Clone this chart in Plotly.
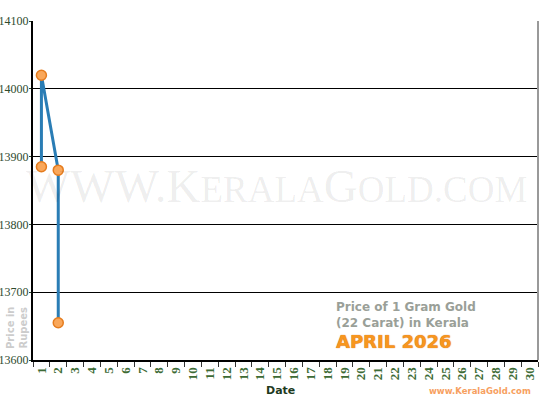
import plotly.graph_objects as go

dates = [str(d) for d in range(1, 31)]
point_dates = ["1", "1", "2", "2"]
prices = [13885, 14020, 13880, 13655]
y_ticks = [13600, 13700, 13800, 13900, 14000, 14100]
y_labels = [str(v) for v in y_ticks]

fig = go.Figure()
fig.add_trace(go.Scatter(
    x=point_dates, y=prices, mode="lines+markers",
    line=dict(color="#2a7db5", width=3),
    marker=dict(size=10, color="#f9a75a", line=dict(color="#e57c1e", width=1.5)),
    showlegend=False, hoverinfo="skip",
))

fig.update_layout(
    width=550, height=400,
    margin=dict(l=33, r=12, t=21, b=40),
    paper_bgcolor="white", plot_bgcolor="white",
    xaxis=dict(
        type="category", categoryorder="array", categoryarray=dates,
        tickvals=dates, ticktext=dates, automargin=False,
        range=[-0.5, 29.5], tickson="boundaries",
        ticks="outside", ticklen=5, tickcolor="#333", tickwidth=1,
        tickangle=-90, showgrid=False, zeroline=False,
        showline=True, linecolor="black", linewidth=2,
        tickfont=dict(family="Liberation Serif", size=13, color="#3d6b35",
                      weight="bold"),
    ),
    yaxis=dict(
        range=[13600, 14100], tickvals=y_ticks, ticktext=y_labels, automargin=False,
        ticks="outside", ticklen=2, tickcolor="#2e4a2e", ticklabelstandoff=-2,
        showgrid=True, gridcolor="black", gridwidth=1.2, zeroline=False,
        showline=True, linecolor="black", linewidth=2,
        tickfont=dict(family="Liberation Serif", size=12, color="#2e4a2e"),
    ),
)

fig.add_shape(type="line", xref="paper", yref="paper", x0=1, x1=1, y0=0, y1=1,
              line=dict(color="#999999", width=2))

# watermark (semi-transparent so the data line shows through)
sc = "font-size:37px"
wm = ("WWW.K<span style='%s'>ERALA</span>G<span style='%s'>OLD.COM</span>" % (sc, sc))
fig.add_annotation(text=wm, xref="paper", yref="paper", x=0.483, y=0.513, yanchor="middle",
                   xanchor="center", showarrow=False,
                   font=dict(family="Liberation Serif", size=47, color="rgba(0,0,0,0.075)"))

fig.add_annotation(text="<b>Price in<br>Rupees</b>", xref="paper", yref="paper",
                   x=-0.032, y=0.094, xanchor="center", yanchor="middle",
                   textangle=-90, showarrow=False,
                   font=dict(family="DejaVu Sans", size=10, color="#cccccc"), align="center")

fig.add_annotation(text="<b>Price of 1 Gram Gold</b>", xref="paper", yref="paper",
                   x=0.596, y=0.156, xanchor="left", yanchor="middle", showarrow=False,
                   font=dict(family="DejaVu Sans", size=12, color="#9a9f98"))
fig.add_annotation(text="<b>(22 Carat) in Kerala</b>", xref="paper", yref="paper",
                   x=0.596, y=0.109, xanchor="left", yanchor="middle", showarrow=False,
                   font=dict(family="DejaVu Sans", size=12, color="#9a9f98"))
fig.add_annotation(text="<b>APRIL 2026</b>", xref="paper", yref="paper",
                   x=0.596, y=0.055, xanchor="left", yanchor="middle", showarrow=False,
                   font=dict(family="DejaVu Sans", size=18, color="#f7961f",
                             shadow="0px 0px 1px #c85a00"))

fig.add_annotation(text="<b>Date</b>", xref="paper", yref="paper",
                   x=0.49, y=-0.09, xanchor="center", yanchor="middle", showarrow=False,
                   font=dict(family="DejaVu Sans", size=11, color="#1e3a1e"))
fig.add_annotation(text="<b>www.KeralaGold.com</b>", xref="paper", yref="paper",
                   x=0.99, y=-0.09, xanchor="right", yanchor="middle", showarrow=False,
                   font=dict(family="DejaVu Sans", size=8.5, color="#f7a060"))

fig.write_html("out.html", config={"displayModeBar": False},
               post_script="document.body.style.margin='0';")
